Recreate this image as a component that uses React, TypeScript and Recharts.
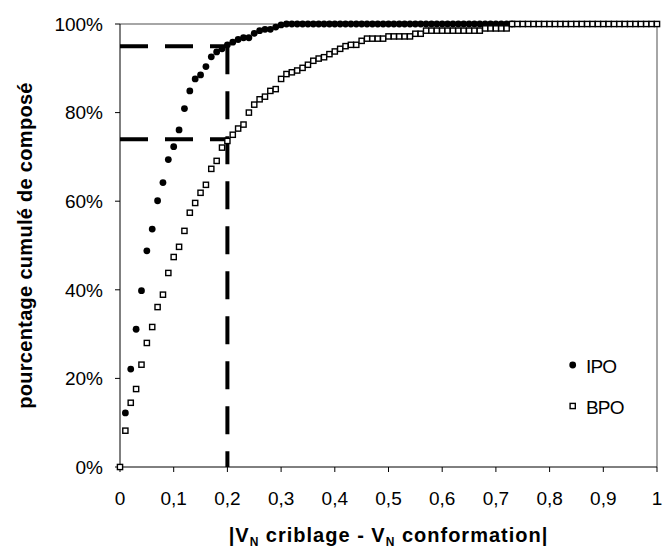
import React from "react";
import {
  ScatterChart,
  Scatter,
  XAxis,
  YAxis,
  ReferenceLine,
  Legend,
} from "recharts";

// x positions (|VN criblage - VN conformation|), step 0.01
const xSteps = [
  0, 0.01, 0.02, 0.03, 0.04, 0.05, 0.06, 0.07, 0.08, 0.09,
  0.1, 0.11, 0.12, 0.13, 0.14, 0.15, 0.16, 0.17, 0.18, 0.19,
  0.2, 0.21, 0.22, 0.23, 0.24, 0.25, 0.26, 0.27, 0.28, 0.29,
  0.3, 0.31, 0.32, 0.33, 0.34, 0.35, 0.36, 0.37, 0.38, 0.39,
  0.4, 0.41, 0.42, 0.43, 0.44, 0.45, 0.46, 0.47, 0.48, 0.49,
  0.5, 0.51, 0.52, 0.53, 0.54, 0.55, 0.56, 0.57, 0.58, 0.59,
  0.6, 0.61, 0.62, 0.63, 0.64, 0.65, 0.66, 0.67, 0.68, 0.69,
  0.7, 0.71, 0.72, 0.73, 0.74, 0.75, 0.76, 0.77, 0.78, 0.79,
  0.8, 0.81, 0.82, 0.83, 0.84, 0.85, 0.86, 0.87, 0.88, 0.89,
  0.9, 0.91, 0.92, 0.93, 0.94, 0.95, 0.96, 0.97, 0.98, 0.99,
  1,
];

// IPO: starts at x = 0.01, ends at x = 0.73
const ipoValues = [
  0.122, 0.221, 0.311, 0.398, 0.488, 0.537, 0.601, 0.642, 0.694, 0.723,
  0.761, 0.809, 0.849, 0.876, 0.885, 0.904, 0.926, 0.937, 0.944, 0.953,
  0.959, 0.965, 0.969, 0.969, 0.979, 0.985, 0.988, 0.988, 0.993, 0.998,
  1, 1, 1, 1, 1, 1, 1, 1, 1, 1,
  1, 1, 1, 1, 1, 1, 1, 1, 1, 1,
  1, 1, 1, 1, 1, 1, 1, 1, 1, 1,
  1, 1, 1, 1, 1, 1, 1, 1, 1, 1,
  1, 1, 1,
];

// BPO: x = 0 .. 1
const bpoValues = [
  0, 0.082, 0.145, 0.176, 0.231, 0.28, 0.316, 0.361, 0.389, 0.438,
  0.474, 0.497, 0.533, 0.574, 0.596, 0.619, 0.637, 0.673, 0.691, 0.721,
  0.736, 0.75, 0.764, 0.773, 0.8, 0.818, 0.83, 0.836, 0.849, 0.853,
  0.876, 0.887, 0.891, 0.895, 0.901, 0.908, 0.917, 0.922, 0.925, 0.932,
  0.938, 0.944, 0.95, 0.953, 0.953, 0.962, 0.967, 0.967, 0.967, 0.967,
  0.972, 0.972, 0.972, 0.972, 0.972, 0.978, 0.978, 0.985, 0.985, 0.985,
  0.985, 0.985, 0.985, 0.985, 0.985, 0.985, 0.985, 0.985, 0.99, 0.99,
  0.99, 0.99, 0.99, 1, 1, 1, 1, 1, 1, 1,
  1, 1, 1, 1, 1, 1, 1, 1, 1, 1,
  1, 1, 1, 1, 1, 1, 1, 1, 1, 1,
  1,
];

const xTicks = [0, 0.1, 0.2, 0.3, 0.4, 0.5, 0.6, 0.7, 0.8, 0.9, 1];
const yTicks = [0, 0.2, 0.4, 0.6, 0.8, 1];

// dashed guide lines: 95 % and 74 % reached at 0.2
const guideX = 0.2;
const guideHigh = 0.95;
const guideLow = 0.74;

const ipoData = ipoValues.map((v, i) => ({ x: xSteps[i + 1], y: v }));
const bpoData = bpoValues.map((v, i) => ({ x: xSteps[i], y: v }));

const FONT = "'Liberation Sans', Arial, sans-serif";

const Dot = (props: any) => {
  const { cx, cy } = props;
  return <circle cx={cx} cy={cy} r={3.4} fill="#000" />;
};

const Square = (props: any) => {
  const { cx, cy } = props;
  return (
    <rect x={cx - 2.6} y={cy - 2.6} width={5.2} height={5.2} fill="#fff" stroke="#000" strokeWidth={1.4} />
  );
};

const XTitle = (props: any) => {
  const vb = props.viewBox || {};
  const cx = vb.x != null ? vb.x + vb.width / 2 : 388;
  return (
    <text x={cx} y={542} textAnchor="middle" fontFamily={FONT} fontWeight="bold" fontSize={20} fill="#000" letterSpacing={1}>
      <tspan>|V</tspan>
      <tspan fontSize={12} dy={4}>N</tspan>
      <tspan dy={-4}> criblage - V</tspan>
      <tspan fontSize={12} dy={4}>N</tspan>
      <tspan dy={-4}> conformation|</tspan>
    </text>
  );
};

const YTitle = (props: any) => {
  const vb = props.viewBox || {};
  const cy = vb.y != null ? vb.y + vb.height / 2 : 245;
  return (
    <text
      x={25}
      y={cy}
      dy="0.36em"
      textAnchor="middle"
      transform={`rotate(-90, 25, ${cy})`}
      fontFamily={FONT}
      fontWeight="bold"
      fontSize={20}
      fill="#000"
      letterSpacing={0.3}
    >
      pourcentage cumulé de composé
    </text>
  );
};

const LegendBox = () => (
  <svg width={90} height={80} style={{ display: "block" }}>
    <circle cx={12.7} cy={20} r={3.4} fill="#000" />
    <text x={26} y={28.3} fontFamily={FONT} fontSize={19} fill="#000" letterSpacing={-0.8}>
      IPO
    </text>
    <rect x={10.1} y={58.4} width={5.2} height={5.2} fill="#fff" stroke="#000" strokeWidth={1.4} />
    <text x={26} y={69.3} fontFamily={FONT} fontSize={19} fill="#000" letterSpacing={-0.8}>
      BPO
    </text>
  </svg>
);

export default function App() {
  return (
    <div style={{ position: "absolute", left: 0, top: 0, width: 664, height: 554, background: "#fff" }}>
      <ScatterChart width={664} height={554} margin={{ top: 24, right: 7, bottom: 0, left: 0 }}>
        <XAxis
          type="number"
          dataKey="x"
          domain={[0, 1]}
          ticks={xTicks}
          interval={0}
          tickFormatter={(v: number) => String(v).replace(".", ",")}
          stroke="#000"
          tickSize={5}
          tickMargin={20}
          height={87}
          tick={{ fill: "#000", fontSize: 19, fontFamily: FONT }}
          label={(p: any) => <XTitle {...p} />}
        />
        <YAxis
          type="number"
          dataKey="y"
          domain={[0, 1]}
          ticks={yTicks}
          interval={0}
          tickFormatter={(v: number) => `${Math.round(v * 100)}%`}
          stroke="#000"
          tickSize={5}
          tickMargin={12}
          width={120}
          tick={{ fill: "#000", fontSize: 19, fontFamily: FONT }}
          label={(p: any) => <YTitle {...p} />}
        />
        <ReferenceLine y={1} stroke="#888" strokeWidth={1.5} />
        <ReferenceLine x={1} stroke="#888" strokeWidth={1.5} />
        <ReferenceLine
          segment={[{ x: 0, y: guideHigh }, { x: guideX, y: guideHigh }]}
          stroke="#000"
          strokeWidth={4}
          strokeDasharray="28 17"
        />
        <ReferenceLine
          segment={[{ x: 0, y: guideLow }, { x: guideX, y: guideLow }]}
          stroke="#000"
          strokeWidth={4}
          strokeDasharray="28 17"
        />
        <ReferenceLine
          segment={[{ x: guideX, y: guideHigh }, { x: guideX, y: 0 }]}
          stroke="#000"
          strokeWidth={4}
          strokeDasharray="28 17"
        />
        <Scatter name="IPO" data={ipoData} shape={<Dot />} isAnimationActive={false} />
        <Scatter name="BPO" data={bpoData} shape={<Square />} isAnimationActive={false} />
        <Legend
          layout="vertical"
          align="center"
          verticalAlign="middle"
          wrapperStyle={{ left: 560, top: 345, width: 90 }}
          content={() => <LegendBox />}
        />
      </ScatterChart>
    </div>
  );
}
